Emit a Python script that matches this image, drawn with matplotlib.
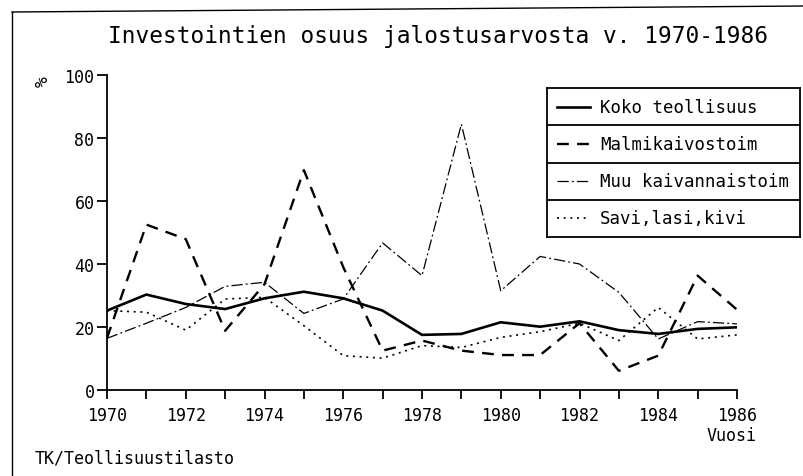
import matplotlib
matplotlib.use("Agg")
import matplotlib.pyplot as plt
from matplotlib.lines import Line2D

plt.rcParams['font.family'] = ['DejaVu Sans Mono']

# ~~~~~~~~ data ~~~~~~~~
years = list(range(1970, 1987))
koko = [25.2, 30.3, 27.3, 25.7, 29.1, 31.2, 29.1, 25.2, 17.5, 17.8,
        21.5, 20.1, 21.8, 19.0, 17.8, 19.4, 19.9]
malmi = [16.5, 52.5, 47.9, 18.8, 33.6, 69.8, 39.0, 12.5, 15.7, 12.5,
         11.1, 11.1, 21.2, 6.1, 10.9, 36.3, 25.5]
muu = [16.4, 21.2, 26.2, 32.9, 34.2, 24.3, 28.9, 46.7, 36.3, 84.4,
       31.5, 42.4, 40.0, 31.0, 16.2, 21.7, 21.0]
savi = [25.2, 24.7, 19.0, 28.9, 29.4, 20.4, 10.9, 10.1, 14.1, 13.5,
        16.7, 18.5, 21.2, 15.7, 26.2, 16.2, 17.5]
labels = ["Koko teollisuus", "Malmikaivostoim", "Muu kaivannaistoim", "Savi,lasi,kivi"]
label_years = list(range(1970, 1987, 2))
yticks = [0, 20, 40, 60, 80, 100]

styles = [
    dict(color="black", lw=1.9, ls="-"),
    dict(color="black", lw=1.7, ls=(0, (5, 3.5))),
    dict(color="black", lw=0.9, ls=(0, (9, 2.5, 1.5, 2.5))),
    dict(color="black", lw=1.2, ls=(0, (1.2, 2.8))),
]

fig = plt.figure(figsize=(8.04, 4.77), dpi=100)

# outer frame (left and top edges of the page box, slightly skewed scan)
fig.add_artist(Line2D([12 / 804, 12 / 804], [0, 1 - 13 / 477], color="black", lw=1.0))
fig.add_artist(Line2D([12 / 804, 1], [1 - 13 / 477, 1 - 7 / 477], color="black", lw=1.0))

ax = fig.add_axes([107 / 804, 1 - 391 / 477, (737 - 107) / 804, (391 - 76) / 477])
for series, st in zip([koko, malmi, muu, savi], styles):
    ax.plot(years, series, **st)

ax.set_xlim(1970, 1986)
ax.set_ylim(0, 100)
ax.spines["top"].set_visible(False)
ax.spines["right"].set_visible(False)
ax.spines["left"].set_linewidth(1.3)
ax.spines["bottom"].set_linewidth(1.3)
ax.set_xticks(years)
ax.set_xticklabels([str(y) if y in label_years else "" for y in years])
ax.set_yticks(yticks)
ax.tick_params(axis="x", direction="out", length=6.5, width=1.3, labelsize=12, pad=5)
ax.tick_params(axis="y", direction="out", length=7, width=1.3, labelsize=12, pad=2)

fig.text(108 / 804, 1 - 37 / 477, "Investointien osuus jalostusarvosta v. 1970-1986",
         fontsize=16.4, va="center", ha="left")
fig.text(43 / 804, 1 - 82 / 477, "%", fontsize=13, rotation=90, va="center", ha="center")
fig.text(757 / 804, 1 - 436 / 477, "Vuosi", fontsize=12, va="center", ha="right")
fig.text(35 / 804, 1 - 459 / 477, "TK/Teollisuustilasto", fontsize=12, va="center", ha="left")

# table-like legend
lax = fig.add_axes([547 / 804, 1 - 238 / 477, (800 - 547) / 804, (238 - 89) / 477])
lax.set_xlim(0, 1)
lax.set_ylim(0, 4)
lax.set_xticks([])
lax.set_yticks([])
for sp in lax.spines.values():
    sp.set_linewidth(1.3)
for i, (lab, st) in enumerate(zip(labels, styles)):
    yc = 3.5 - i
    if i > 0:
        lax.axhline(4 - i, color="black", lw=1.3)
    lax.plot([0.04, 0.17], [yc, yc], **st)
    lax.text(0.21, yc, lab, fontsize=12.5, va="center", ha="left")

fig.savefig("out.png", dpi=100)
